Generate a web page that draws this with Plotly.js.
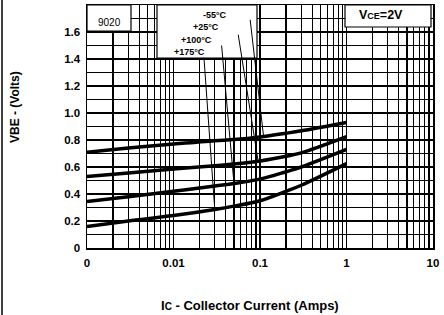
<!DOCTYPE html>
<html>
<head>
<meta charset="utf-8">
<script src="https://cdn.plot.ly/plotly-3.0.1.min.js"></script>
<style>html,body{margin:0;padding:0;background:#fff;}#chart{width:444px;height:315px;}</style>
</head>
<body>
<div id="chart"></div>
<script>
// Collector current (A)
const collectorCurrent = [0.001, 0.003, 0.01, 0.03, 0.05, 0.1, 0.2, 0.3, 1];
// VBE (V) for each temperature
const vbeMinus55 = [0.71, 0.74, 0.77, 0.795, 0.803, 0.822, 0.85, 0.868, 0.93];
const vbePlus25 = [0.53, 0.555, 0.585, 0.61, 0.622, 0.645, 0.68, 0.705, 0.825];
const vbePlus100 = [0.345, 0.38, 0.42, 0.46, 0.478, 0.51, 0.565, 0.60, 0.73];
const vbePlus175 = [0.16, 0.20, 0.24, 0.285, 0.31, 0.35, 0.42, 0.465, 0.625];
const seriesNames = ['-55°C', '+25°C', '+100°C', '+175°C'];

// leader lines from labels to curves
const leaderStartI = [0.077, 0.056, 0.036, 0.0225];
const leaderStartV = [1.69, 1.58, 1.50, 1.41];
const leaderEndI = [0.11, 0.095, 0.05, 0.03];
const leaderEndV = [0.825, 0.645, 0.48, 0.285];

const xTickVals = [0.001, 0.01, 0.1, 1, 10];
const xTickText = ['0', '0.01', '0.1', '1', '10'];
const yTickVals = [0, 0.2, 0.4, 0.6, 0.8, 1.0, 1.2, 1.4, 1.6];
const yTickText = ['0', '0.2', '0.4', '0.6', '0.8', '1.0', '1.2', '1.4', '1.6'];

const allSeries = [vbeMinus55, vbePlus25, vbePlus100, vbePlus175];

// minor log grid (2..9 in each decade)
const minorX = [];
for (let e = -3; e < 1; e++) {
  for (let m = 2; m <= 9; m++) minorX.push(m * Math.pow(10, e));
}

const traces = allSeries.map((s, i) => ({
  x: collectorCurrent, y: s, name: seriesNames[i],
  mode: 'lines', line: {color: '#000', width: 3.5, shape: 'spline', smoothing: 1.0},
  showlegend: false
}));

const fnt = {family: 'Liberation Sans, Arial, sans-serif', size: 11.5, color: '#000', weight: 'bold'};
const smallFnt = {family: 'Liberation Sans, Arial, sans-serif', size: 9, color: '#000', weight: 'bold'};

const shapes = [
  // label box
  {type: 'rect', xref: 'paper', yref: 'paper', x0: (157-87)/346, x1: (257-87)/346, y0: (248-58)/243, y1: 1,
   fillcolor: '#fff', line: {color: '#000', width: 1.2}, layer: 'above'},
  // 9020 box
  {type: 'rect', xref: 'paper', yref: 'paper', x0: 0, x1: (131-87)/346, y0: (248-31)/243, y1: 1,
   fillcolor: '#fff', line: {color: '#000', width: 1.2}, layer: 'above'},
  // VCE box
  {type: 'rect', xref: 'paper', yref: 'paper', x0: (345-87)/346, x1: (431-87)/346, y0: (248-27)/243, y1: 1,
   fillcolor: '#fff', line: {color: '#000', width: 1.2}, layer: 'above'},
  // scan border line at left
  {type: 'line', xref: 'paper', yref: 'paper', x0: (2-87)/346, x1: (2-87)/346, y0: -67/243, y1: 1 + 5/243,
   line: {color: '#000', width: 1.5}}
];
// leader lines (data coordinates), drawn above the boxes
leaderStartI.forEach((v, i) => {
  shapes.push({type: 'line', xref: 'x', yref: 'y', x0: leaderStartI[i], y0: leaderStartV[i],
    x1: leaderEndI[i], y1: leaderEndV[i], line: {color: '#000', width: 1}, layer: 'above'});
});

const layout = {
  width: 444, height: 315,
  margin: {l: 87, r: 11, t: 5, b: 67},
  paper_bgcolor: '#fff', plot_bgcolor: '#fff',
  showlegend: false,
  font: fnt,
  xaxis: {
    type: 'log', range: [-3, 1],
    tickmode: 'array', tickvals: xTickVals, ticktext: xTickText,
    showgrid: true, gridcolor: '#000', gridwidth: 1.4,
    minor: {tickmode: 'array', tickvals: minorX, showgrid: true, gridcolor: '#000', gridwidth: 1.1, ticks: ''},
    showline: true, mirror: true, linecolor: '#000', linewidth: 1.5,
    ticks: '', zeroline: false, ticklabelstandoff: 4,
    tickfont: fnt
  },
  yaxis: {
    range: [0, 1.8],
    tickmode: 'array', tickvals: yTickVals, ticktext: yTickText,
    showgrid: true, gridcolor: '#000', gridwidth: 1.3,
    minor: {dtick: 0.1, showgrid: true, gridcolor: '#000', gridwidth: 1.3, ticks: ''},
    showline: true, mirror: true, linecolor: '#000', linewidth: 1.5,
    ticks: '', zeroline: false, ticklabelstandoff: 3,
    tickfont: fnt
  },
  shapes: shapes,
  annotations: [
    {xref: 'paper', yref: 'paper', x: (229-87)/346, y: (248-15)/243, xanchor: 'right', yanchor: 'middle',
     text: seriesNames[0], showarrow: false, font: smallFnt},
    {xref: 'paper', yref: 'paper', x: (221-87)/346, y: (248-27)/243, xanchor: 'right', yanchor: 'middle',
     text: seriesNames[1], showarrow: false, font: smallFnt},
    {xref: 'paper', yref: 'paper', x: (214-87)/346, y: (248-40)/243, xanchor: 'right', yanchor: 'middle',
     text: seriesNames[2], showarrow: false, font: smallFnt},
    {xref: 'paper', yref: 'paper', x: (207-87)/346, y: (248-52)/243, xanchor: 'right', yanchor: 'middle',
     text: seriesNames[3], showarrow: false, font: smallFnt},
    {xref: 'paper', yref: 'paper', x: (109-87)/346, y: (248-22)/243, xanchor: 'center', yanchor: 'middle',
     text: '9020', showarrow: false, font: {family: fnt.family, size: 10, color: '#000', weight: 'normal'}},
    {xref: 'paper', yref: 'paper', x: (381-87)/346, y: (248-15)/243, xanchor: 'center', yanchor: 'middle',
     text: "V<span style='font-size:9px'>CE</span>=2V", showarrow: false,
     font: {family: fnt.family, size: 12.5, color: '#000', weight: 'bold'}},
    {xref: 'paper', yref: 'paper', x: (15-87)/346, y: (248-107)/243, xanchor: 'center', yanchor: 'middle',
     text: 'VBE - (Volts)', textangle: -90, showarrow: false,
     font: {family: fnt.family, size: 12, color: '#000', weight: 'bold'}},
    {xref: 'paper', yref: 'paper', x: (250-87)/346, y: -(305-248)/243, xanchor: 'center', yanchor: 'middle',
     text: "I<span style='font-size:10px'>C</span> - Collector Current (Amps)", showarrow: false,
     font: {family: fnt.family, size: 13, color: '#000', weight: 'bold'}}
  ]
};

Plotly.newPlot('chart', traces, layout, {staticPlot: true, displayModeBar: false});
</script>
</body>
</html>
